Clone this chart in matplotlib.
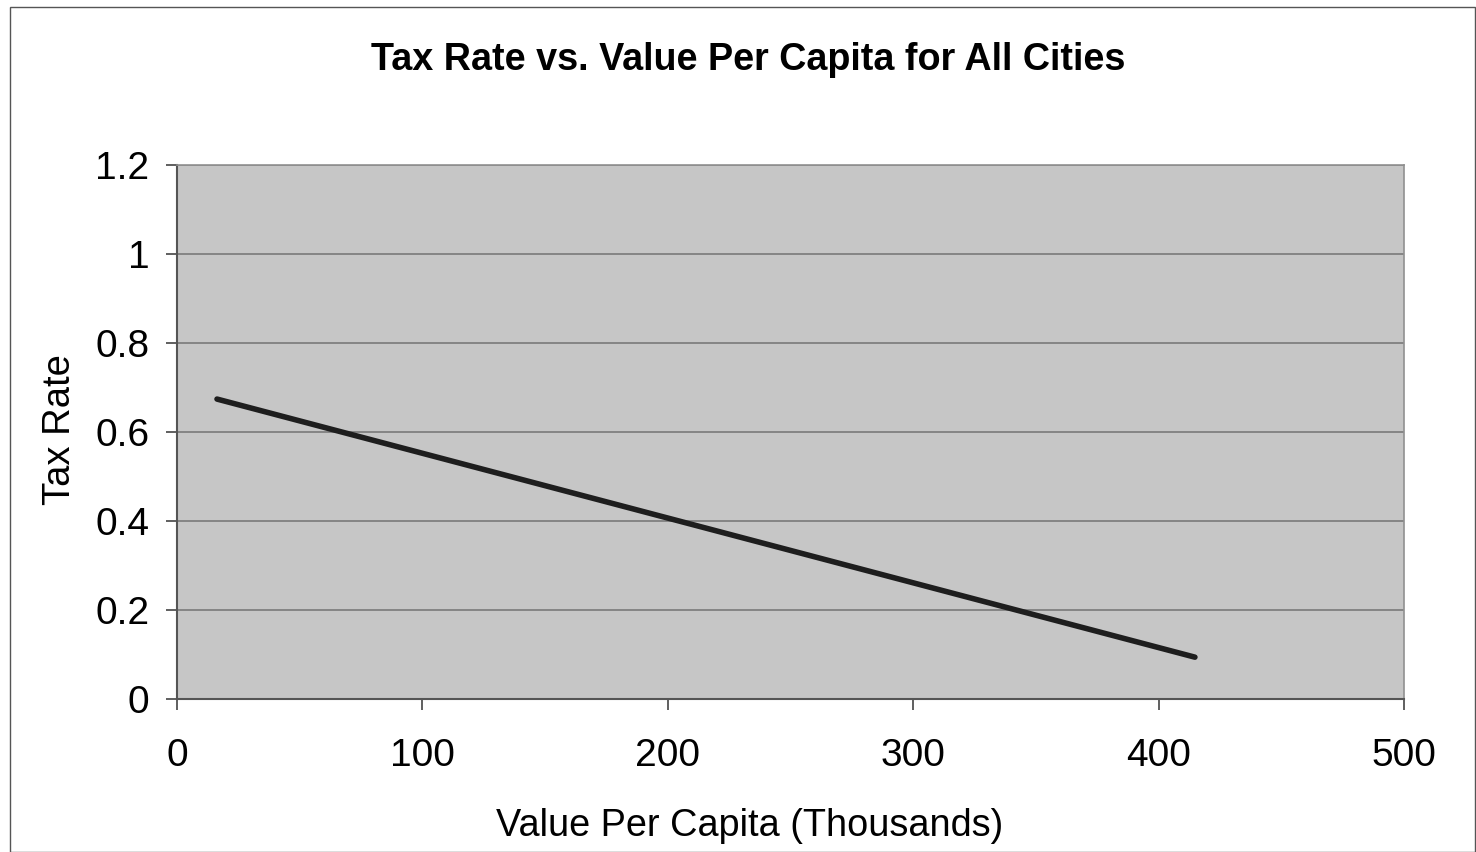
import matplotlib
matplotlib.use("Agg")
import matplotlib.pyplot as plt
from matplotlib.patches import Rectangle

# Data
value_per_capita = [16.3, 414.8]
tax_rate = [0.674, 0.094]
x_ticks = [0, 100, 200, 300, 400, 500]
y_ticks = [0, 0.2, 0.4, 0.6, 0.8, 1.0, 1.2]
y_tick_labels = ["0", "0.2", "0.4", "0.6", "0.8", "1", "1.2"]

plt.rcParams['font.family'] = ['Liberation Sans', 'DejaVu Sans']

fig = plt.figure(figsize=(14.76, 8.52), dpi=100)
fig.patch.set_facecolor('white')
fig.patches.append(Rectangle((10/1476, 0.0), 1 - 10/1476 - 1/1476, 1 - 7/852,
                             transform=fig.transFigure, fill=False,
                             edgecolor='#555555', linewidth=1.0))

ax = fig.add_axes([177/1476, 1 - 699/852, (1404 - 177)/1476, (699 - 165)/852])
ax.set_facecolor('#c6c6c6')
ax.plot(value_per_capita, tax_rate, color='#1e1e1e', linewidth=4.0,
        solid_capstyle='round')

ax.set_xlim(0, 500)
ax.set_ylim(0, 1.2)
ax.set_xticks(x_ticks)
ax.set_xticklabels([str(v) for v in x_ticks])
ax.set_yticks(y_ticks)
ax.set_yticklabels(y_tick_labels)
ax.grid(axis='y', color='#7a7a7a', linewidth=1.2)
ax.set_axisbelow(True)

for side in ['top', 'right']:
    ax.spines[side].set_color('#909090')
    ax.spines[side].set_linewidth(1.2)
for side in ['left', 'bottom']:
    ax.spines[side].set_color('#555555')
    ax.spines[side].set_linewidth(1.5)

ax.tick_params(axis='both', direction='out', length=8, width=1.2,
               color='#444444', labelsize=28)
ax.tick_params(axis='x', pad=20)
ax.tick_params(axis='y', pad=12)

fig.text(750/1476, 1 - 826/852, 'Value Per Capita (Thousands)',
         ha='center', va='center', fontsize=27.3)
fig.text(60/1476, 1 - 430/852, 'Tax Rate', rotation=90,
         ha='center', va='center', fontsize=27.5)
fig.text(748/1476, 1 - 60/852, 'Tax Rate vs. Value Per Capita for All Cities',
         ha='center', va='center', fontsize=27.2, fontweight='bold')

fig.savefig('out.png', dpi=100)
